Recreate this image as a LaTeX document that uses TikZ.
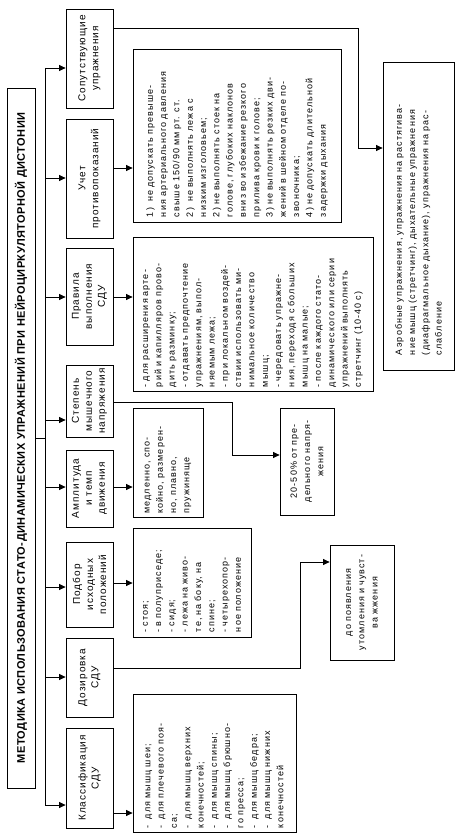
\documentclass[tikz,border=0pt]{standalone}
\usepackage{fontspec}
\setmainfont{Liberation Sans}
\newfontfamily\bodyf[LetterSpace=12]{Liberation Sans}
\newfontfamily\headf[LetterSpace=10]{Liberation Sans}
\newfontfamily\titlef[LetterSpace=4]{Liberation Sans}
\usetikzlibrary{arrows.meta}
\newcommand{\bodyfont}{\bodyf\fontsize{9}{13.3}\selectfont\spaceskip=4.6pt plus 1pt\relax}
\newcommand{\headfont}{\headf\fontsize{10}{13}\selectfont\spaceskip=4pt plus 1pt\relax}
\tikzset{
  box/.style={draw, line width=0.8pt, inner sep=0pt, rectangle},
  conn/.style={line width=0.8pt},
  arr/.style={line width=0.8pt, -{Triangle[length=6.5pt,width=6pt]}},
  rtxt/.style={rotate=90, inner sep=0pt},
  bodytext/.style={rtxt, font=\bodyfont, align=left},
  bodyctext/.style={rtxt, font=\bodyfont, align=center},
  headtext/.style={rtxt, font=\headfont, align=center},
}
\begin{document}
\begin{tikzpicture}[x=1pt,y=-1pt]
\useasboundingbox (0,0) rectangle (460,840);
% title
\node[box, minimum width=28pt, minimum height=700pt] (T) at (21,438) {};
\node[rtxt, font=\titlef\bfseries\fontsize{11}{13}\selectfont] (tT) at (T.center) {МЕТОДИКА ИСПОЛЬЗОВАНИЯ СТАТО-ДИНАМИЧЕСКИХ УПРАЖНЕНИЙ ПРИ НЕЙРОЦИРКУЛЯТОРНОЙ ДИСТОНИИ};
% column 1
\node[box, minimum width=47pt, minimum height=99pt] (b1) at (89.5,58.5) {};
\node[box, minimum width=47pt, minimum height=119pt] (b2) at (89.5,178.5) {};
\node[box, minimum width=47pt, minimum height=97pt] (b3) at (89.5,296.5) {};
\node[box, minimum width=47pt, minimum height=72pt] (b4) at (89.5,401) {};
\node[box, minimum width=47pt, minimum height=77pt] (b5) at (89.5,488.5) {};
\node[box, minimum width=47pt, minimum height=85pt] (b6) at (89.5,584.5) {};
\node[box, minimum width=47pt, minimum height=79pt] (b7) at (89.5,677.5) {};
\node[box, minimum width=47pt, minimum height=100pt] (b8) at (89.5,778) {};
\node[headtext] (t1) at (b1.center) {Сопутствующие\\упражнения};
\node[headtext] (t2) at (b2.center) {Учет\\противопоказаний};
\node[headtext] (t3) at (b3.center) {Правила\\выполнения\\СДУ};
\node[headtext] (t4) at (b4.center) {Степень\\мышечного\\напряжения};
\node[headtext] (t5) at (b5.center) {Амплитуда\\и темп\\движения};
\node[headtext] (t6) at (b6.center) {Подбор\\исходных\\положений};
\node[headtext] (t7) at (b7.center) {Дозировка\\СДУ};
\node[headtext] (t8) at (b8.center) {Классификация\\СДУ};
% column 2
\node[box, minimum width=208pt, minimum height=173pt] (A) at (237,135.5) {};
\node[box, minimum width=240pt, minimum height=154pt] (B) at (253,314) {};
\node[box, minimum width=70pt, minimum height=109pt] (C) at (168,462.5) {};
\node[box, minimum width=118pt, minimum height=109pt] (D) at (192,582.5) {};
\node[box, minimum width=163pt, minimum height=138pt] (E) at (214.5,763) {};
\node[box, minimum width=64pt, minimum height=115pt] (F) at (362,602.5) {};
\node[box, minimum width=54pt, minimum height=107pt] (G) at (307,461.5) {};
\node[box, minimum width=71pt, minimum height=308pt] (H) at (418.5,216) {};
\node[bodytext, text width=163pt] (tA) at (A.center) {1)\ \ не допускать превыше-\\ния артериального давления\\свыше 150/90 мм рт. ст.\\2)\ \ не выполнять лежа с\\низким изголовьем;\\2) не выполнять стоек на\\голове, глубоких наклонов\\вниз во избежание резкого\\прилива крови к голове;\\3) не выполнять резких дви-\\жений в шейном отделе по-\\звоночника;\\4) не допускать длительной\\задержки дыхания};
\node[bodytext, text width=146pt] (tB) at (B.center) {- для расширения арте-\\рий и капилляров прово-\\дить разминку;\\- отдавать предпочтение\\упражнениям, выпол-\\няемым лежа;\\- при локальном воздей-\\ствии использовать ми-\\нимальное количество\\мышц;\\- чередовать упражне-\\ния, переходя с больших\\мышц на малые;\\- после каждого стато-\\динамического или серии\\упражнений выполнять\\стретчинг (10-40 с)};
\node[bodytext, text width=102pt] (tC) at (C.center) {медленно, спо-\\койно, размерен-\\но, плавно,\\пружиняще};
\node[bodytext, text width=99pt] (tD) at (D.center) {- стоя;\\-\ в полуприседе;\\- сидя;\\-\ лежа на живо-\\те, на боку, на\\спине;\\-\ четырехопор-\\ное положение};
\node[bodytext, text width=130pt] (tE) at (E.center) {-\ \ для мышц шеи;\\-\ \ для плечевого поя-\\са;\\-\ \ для мышц верхних\\конечностей;\\-\ \ для мышц спины;\\-\ \ для мышц брюшно-\\го пресса;\\-\ \ для мышц бедра;\\-\ \ для мышц нижних\\конечностей};
\node[bodyctext, text width=110pt] (tF) at (F.center) {до появления\\утомления и чувст-\\ва жжения};
\node[bodyctext, text width=99pt] (tG) at (G.center) {20-50\% от пре-\\дельного напря-\\жения};
\node[bodytext, text width=278pt] (tH) at (H.center) {Аэробные упражнения, упражнения на растягива-\\ние мышц (стретчинг), дыхательные упражнения\\(диафрагмальное дыхание), упражнения на рас-\\слабление};
% spine
\coordinate (spTop) at (45,68);
\coordinate (spBot) at (45,805);
\draw[conn] (spTop) -- (spBot);
\draw[conn] (T.east) -- (T.east -| spTop);
\coordinate (s1) at (45,68);
\coordinate (s2) at (45,178);
\coordinate (s3) at (45,297);
\coordinate (s4) at (45,420);
\coordinate (s5) at (45,487);
\coordinate (s6) at (45,587);
\coordinate (s7) at (45,677);
\coordinate (s8) at (45,805);
\draw[arr] (s1) -- (s1 -| b1.west);
\draw[arr] (s2) -- (s2 -| b2.west);
\draw[arr] (s3) -- (s3 -| b3.west);
\draw[arr] (s4) -- (s4 -| b4.west);
\draw[arr] (s5) -- (s5 -| b5.west);
\draw[arr] (s6) -- (s6 -| b6.west);
\draw[arr] (s7) -- (s7 -| b7.west);
\draw[arr] (s8) -- (s8 -| b8.west);
% right connectors
\coordinate (r1) at (113,28);
\coordinate (k1) at (358,148);
\draw[arr] (r1) -| (k1) -- (k1 -| H.west);
\coordinate (r2) at (113,168);
\draw[arr] (r2) -- (r2 -| A.west);
\coordinate (r3) at (113,297);
\draw[arr] (r3) -- (r3 -| B.west);
\coordinate (r4) at (113,402);
\coordinate (k4) at (232,455);
\draw[arr] (r4) -| (k4) -- (k4 -| G.west);
\coordinate (r5) at (113,487);
\draw[arr] (r5) -- (r5 -| C.west);
\coordinate (r6) at (113,583);
\draw[arr] (r6) -- (r6 -| D.west);
\coordinate (r7) at (113,668);
\coordinate (k7) at (300,562);
\draw[arr] (r7) -| (k7) -- (k7 -| F.west);
\coordinate (r8) at (113,813);
\draw[arr] (r8) -- (r8 -| E.west);
\end{tikzpicture}
\end{document}
